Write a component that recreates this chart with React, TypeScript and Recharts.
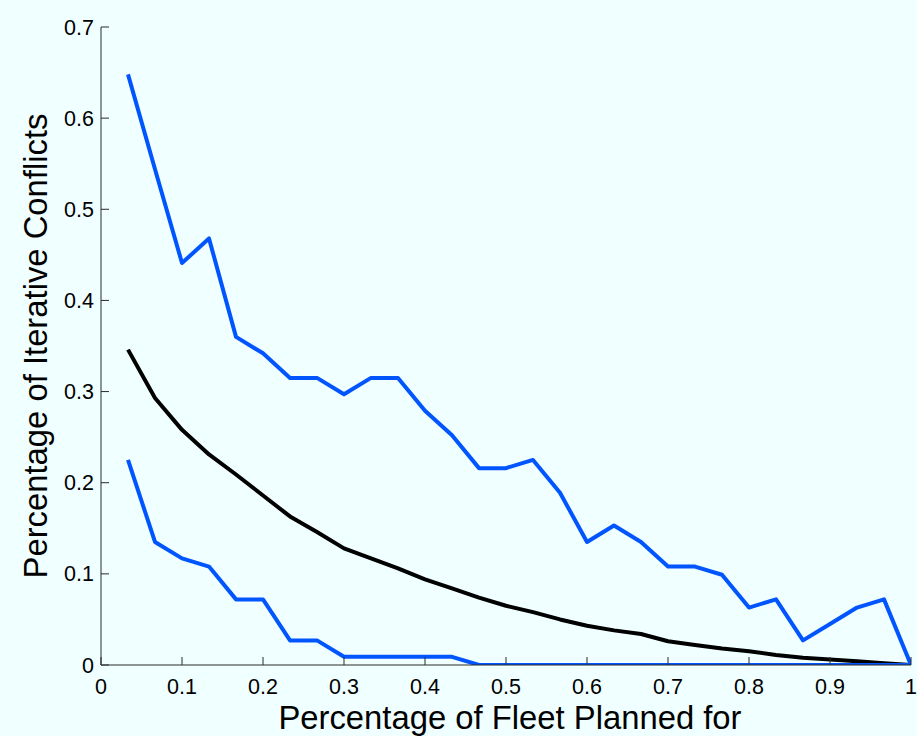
import React from "react";
import { LineChart, Line, XAxis, YAxis } from "recharts";

const fleetFraction = [
  1 / 30, 2 / 30, 3 / 30, 4 / 30, 5 / 30, 6 / 30, 7 / 30, 8 / 30, 9 / 30, 10 / 30,
  11 / 30, 12 / 30, 13 / 30, 14 / 30, 15 / 30, 16 / 30, 17 / 30, 18 / 30, 19 / 30, 20 / 30,
  21 / 30, 22 / 30, 23 / 30, 24 / 30, 25 / 30, 26 / 30, 27 / 30, 28 / 30, 29 / 30, 30 / 30,
];

const upperConflicts = [
  0.648, 0.544, 0.441, 0.468, 0.36, 0.342, 0.315, 0.315, 0.297, 0.315,
  0.315, 0.279, 0.252, 0.216, 0.216, 0.225, 0.189, 0.135, 0.153, 0.135,
  0.108, 0.108, 0.099, 0.063, 0.072, 0.027, 0.045, 0.063, 0.072, 0.0,
];

const meanConflicts = [
  0.346, 0.293, 0.258, 0.231, 0.209, 0.186, 0.163, 0.146, 0.128, 0.117,
  0.106, 0.094, 0.084, 0.074, 0.065, 0.058, 0.050, 0.043, 0.038, 0.034,
  0.026, 0.022, 0.018, 0.015, 0.011, 0.008, 0.006, 0.004, 0.002, 0.0,
];

const lowerConflicts = [
  0.225, 0.135, 0.117, 0.108, 0.072, 0.072, 0.027, 0.027, 0.009, 0.009,
  0.009, 0.009, 0.009, 0.0, 0.0, 0.0, 0.0, 0.0, 0.0, 0.0,
  0.0, 0.0, 0.0, 0.0, 0.0, 0.0, 0.0, 0.0, 0.0, 0.0,
];

const xTicks = [0, 0.1, 0.2, 0.3, 0.4, 0.5, 0.6, 0.7, 0.8, 0.9, 1];
const xTickLabels = ["0", "0.1", "0.2", "0.3", "0.4", "0.5", "0.6", "0.7", "0.8", "0.9", "1"];
const yTicks = [0, 0.1, 0.2, 0.3, 0.4, 0.5, 0.6, 0.7];
const yTickLabels = ["0", "0.1", "0.2", "0.3", "0.4", "0.5", "0.6", "0.7"];

const xTitle = "Percentage of Fleet Planned for";
const yTitle = "Percentage of Iterative Conflicts";

const data = fleetFraction.map((f, i) => ({
  f,
  upper: upperConflicts[i],
  mean: meanConflicts[i],
  lower: lowerConflicts[i],
}));

const FONT = "'Liberation Sans', Arial, Helvetica, sans-serif";
const AXIS = "#2b2b2b";

const XTick = (props: any) => {
  const { x, y, payload } = props;
  const label = xTickLabels[xTicks.indexOf(payload.value)] ?? String(payload.value);
  return (
    <g>
      <line x1={x} y1={y} x2={x} y2={y - 8} stroke={AXIS} strokeWidth={1} />
      <text x={x} y={y + 29} textAnchor="middle" fontSize={21.5} fontFamily={FONT} fill="#000">
        {label}
      </text>
    </g>
  );
};

const YTick = (props: any) => {
  const { x, y, payload } = props;
  const label = yTickLabels[yTicks.indexOf(payload.value)] ?? String(payload.value);
  return (
    <g>
      <line x1={x} y1={y} x2={x + 8} y2={y} stroke={AXIS} strokeWidth={1} />
      <text x={x - 7} y={y + 7.5} textAnchor="end" fontSize={21.5} fontFamily={FONT} fill="#000">
        {label}
      </text>
    </g>
  );
};

const XTitle = (props: any) => {
  const vb = props.viewBox || {};
  const cx = (vb.x ?? 0) + (vb.width ?? 0) / 2;
  const y = (vb.y ?? 0) + 64;
  return (
    <text x={cx + 4} y={y} textAnchor="middle" fontSize={32.8} fontFamily={FONT} fill="#000">
      {xTitle}
    </text>
  );
};

const YTitle = (props: any) => {
  const vb = props.viewBox || {};
  const cy = (vb.y ?? 0) + (vb.height ?? 0) / 2;
  const x = 47;
  return (
    <text
      x={x}
      y={cy}
      textAnchor="middle"
      fontSize={32.8}
      fontFamily={FONT}
      fill="#000"
      transform={`rotate(-90, ${x}, ${cy})`}
    >
      {yTitle}
    </text>
  );
};

export default function App() {
  return (
    <div
      style={{
        position: "fixed",
        left: 0,
        top: 0,
        width: 917,
        height: 736,
        background: "#F0FFFF",
      }}
    >
      <LineChart
        width={917}
        height={736}
        data={data}
        margin={{ top: 27, right: 6, bottom: 31, left: 41 }}
      >
        <XAxis
          dataKey="f"
          type="number"
          domain={[0, 1]}
          ticks={xTicks}
          interval={0}
          height={40}
          tickSize={0}
          tickMargin={0}
          tickLine={false}
          axisLine={{ stroke: AXIS, strokeWidth: 1 }}
          tick={<XTick />}
          label={<XTitle />}
          allowDataOverflow
        />
        <YAxis
          type="number"
          domain={[0, 0.7]}
          ticks={yTicks}
          interval={0}
          width={60}
          tickSize={0}
          tickMargin={0}
          tickLine={false}
          axisLine={{ stroke: AXIS, strokeWidth: 1 }}
          tick={<YTick />}
          label={<YTitle />}
          allowDataOverflow
        />
        <Line
          dataKey="mean"
          stroke="#000000"
          strokeWidth={4}
          dot={false}
          activeDot={false}
          isAnimationActive={false}
          strokeLinejoin="round"
        />
        <Line
          dataKey="upper"
          stroke="#0055FF"
          strokeWidth={4}
          dot={false}
          activeDot={false}
          isAnimationActive={false}
          strokeLinejoin="round"
        />
        <Line
          dataKey="lower"
          stroke="#0055FF"
          strokeWidth={4}
          dot={false}
          activeDot={false}
          isAnimationActive={false}
          strokeLinejoin="round"
        />
      </LineChart>
    </div>
  );
}
